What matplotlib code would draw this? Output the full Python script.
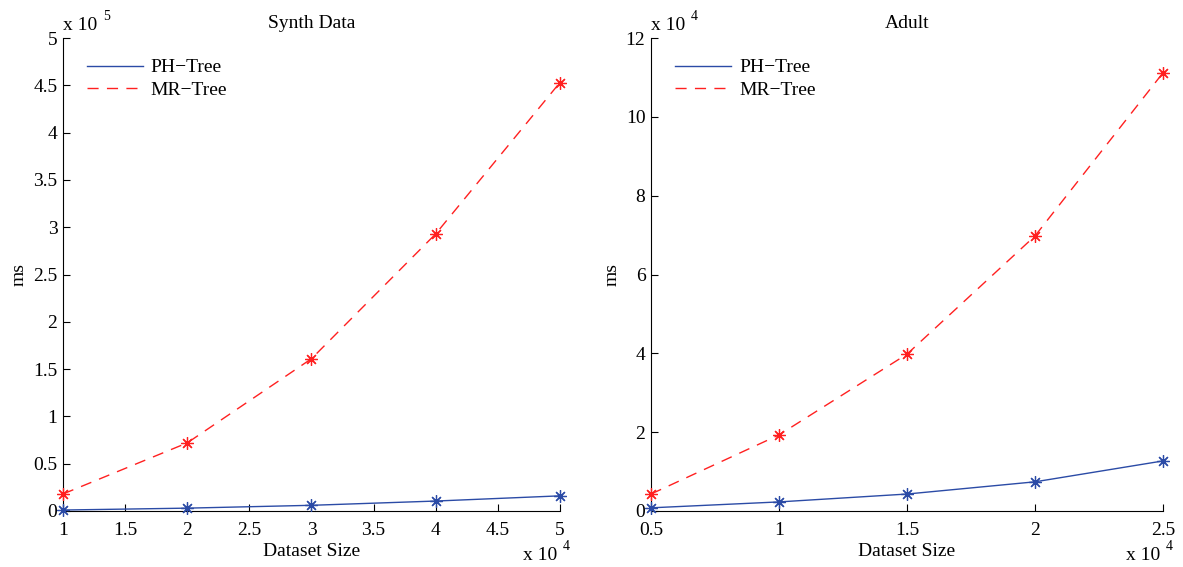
import numpy as np
import matplotlib
matplotlib.use("Agg")
import matplotlib.pyplot as plt
import matplotlib.ticker as mticker

plt.rcParams["font.family"] = ["Liberation Serif", "DejaVu Serif"]

# data
synth_x  = [1e4, 2e4, 3e4, 4e4, 5e4]
synth_ph = [1000, 3000, 6000, 10500, 16000]
synth_mr = [18000, 72000, 161000, 293000, 453000]

adult_x  = [0.5e4, 1e4, 1.5e4, 2e4, 2.5e4]
adult_ph = [800, 2300, 4300, 7400, 12700]
adult_mr = [4300, 19300, 39800, 69800, 111200]

BLUE = "#2b4ba6"
RED = "#ff2020"
FS = 14
W, H = 1183, 567

fig = plt.figure(figsize=(W / 100, H / 100), dpi=100)


def scaled(p):
    return mticker.FuncFormatter(lambda v, pos: f"{v / 10**p:g}")


def exp_label(px, py, p):
    # MATLAB-style "x 10^p", given in pixels from top-left
    fig.text(px / W, 1 - py / H, "x 10", fontsize=FS, ha="left", va="center")
    fig.text((px + 40) / W, 1 - (py - 9) / H, str(p), fontsize=FS - 4,
             ha="left", va="center")


def panel(rect, x, ph, mr, title, xlim, xticks, ylim, yticks):
    ax = fig.add_axes(rect)
    ax.plot(x, ph, color=BLUE, lw=1.0, label="PH\u2212Tree")
    ax.plot(x, mr, color=RED, lw=1.0, ls=(0, (8, 6)), label="MR\u2212Tree")
    ax.plot(x, ph, ls="none", marker=(8, 2, 0), ms=9, mec=BLUE, mew=0.9,
            clip_on=False, zorder=3)
    ax.plot(x, mr, ls="none", marker=(8, 2, 0), ms=9, mec=RED, mew=0.9,
            clip_on=False, zorder=3)
    ax.set_xlim(xlim)
    ax.set_ylim(ylim)
    ax.set_xticks(xticks)
    ax.set_yticks(yticks)
    ax.spines["top"].set_visible(False)
    ax.spines["right"].set_visible(False)
    ax.tick_params(direction="in", length=5, labelsize=FS, width=0.8)
    ax.tick_params(axis="x", pad=8)
    ax.tick_params(axis="y", pad=4)
    ax.set_title(title, fontsize=FS, pad=7)
    ax.set_xlabel("Dataset Size", fontsize=FS, labelpad=3)
    ax.set_ylabel("ms", fontsize=FS, labelpad=4)
    ax.legend(loc="upper left", frameon=False, fontsize=FS, handlelength=2.9,
              borderaxespad=0.3, handletextpad=0.4, labelspacing=0.25,
              bbox_to_anchor=(0.02, 0.985))
    return ax


ax1 = panel([0.0533, 0.0988, 0.420, 0.834], synth_x, synth_ph, synth_mr, "Synth Data",
            (1e4, 5e4), np.arange(1e4, 5.01e4, 0.5e4), (0, 5e5),
            np.arange(0, 5.01e5, 0.5e5))
ax1.xaxis.set_major_formatter(scaled(4))
ax1.yaxis.set_major_formatter(scaled(5))

ax2 = panel([0.5503, 0.0988, 0.4328, 0.834], adult_x, adult_ph, adult_mr, "Adult",
            (0.5e4, 2.5e4), np.arange(0.5e4, 2.51e4, 0.5e4), (0, 12e4),
            np.arange(0, 12.01e4, 2e4))
ax2.xaxis.set_major_formatter(scaled(4))
ax2.yaxis.set_major_formatter(scaled(4))

exp_label(63, 25, 5)
exp_label(523, 556, 4)
exp_label(651, 25, 4)
exp_label(1126, 556, 4)

fig.savefig("out.png", dpi=100)
